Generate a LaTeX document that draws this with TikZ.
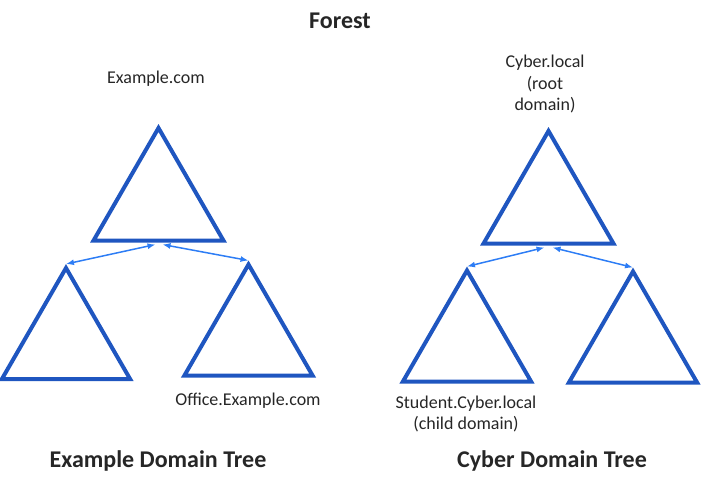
\documentclass[tikz,border=0pt]{standalone}
\usepackage{fontspec}
\setmainfont{Carlito}
\usetikzlibrary{shapes.geometric,arrows.meta}

\definecolor{treeblue}{RGB}{31,86,192}
\definecolor{linkblue}{RGB}{45,125,245}
\definecolor{txtgray}{RGB}{38,38,38}

\tikzset{
  domtri/.style={regular polygon,regular polygon sides=3,draw=treeblue,
    line width=4pt,minimum size=150pt,inner sep=0pt},
  trust/.style={<->,>={Latex[length=8pt,width=6pt]},color=linkblue,line width=1.5pt},
  domname/.style={text=txtgray,font=\fontsize{18}{21.5}\selectfont,align=center},
  heading/.style={text=txtgray,font=\fontsize{24}{28}\selectfont\bfseries}
}

\begin{document}
\begin{tikzpicture}[x=1pt,y=-1pt]
    \useasboundingbox (0,0) rectangle (703,476);
    \node[heading]  (forest) at (340,21)                          {Forest};
    % example.com tree
    \node[domtri]   (exroot)    at (158.5,203)                    {};
    \node[domtri,minimum size=148pt] (exleft)   at (66,342)       {};
    \node[domtri,minimum size=148pt] (exoffice) at (248.5,338.5)  {};
    \node[domname]  (exlabel)   at (156,79)                       {Example.com};
    \node[domname]  (offlabel)  at (248,401)                      {Office.Example.com};
    \node[heading]  (extree)    at (158,461)                      {Example Domain Tree};
    % cyber.local tree
    \node[domtri]   (cyroot)    at (548.5,206)                    {};
    \node[domtri,minimum size=148pt] (cystudent) at (467,344.5)   {};
    \node[domtri,minimum size=148pt] (cyright)   at (633,345.5)   {};
    \node[domname]  (cylabel)   at (545,84)                       {Cyber.local\\(root\\domain)};
    \node[domname]  (stulabel)  at (466,414)                      {Student.Cyber.local\\(child domain)};
    \node[heading]  (cytree)    at (552,461)                      {Cyber Domain Tree};
    \path[trust]  ([xshift=-3pt,yshift=-2pt]exroot.side 2) edge (exleft.corner 1)
                  ([xshift=4pt,yshift=-2pt]exroot.side 2)  edge (exoffice.corner 1)
                  ([xshift=-4pt,yshift=-2pt]cyroot.side 2) edge (cystudent.corner 1)
                  ([xshift=4pt,yshift=-2pt]cyroot.side 2)  edge (cyright.corner 1)
                  ;
\end{tikzpicture}
\end{document}
